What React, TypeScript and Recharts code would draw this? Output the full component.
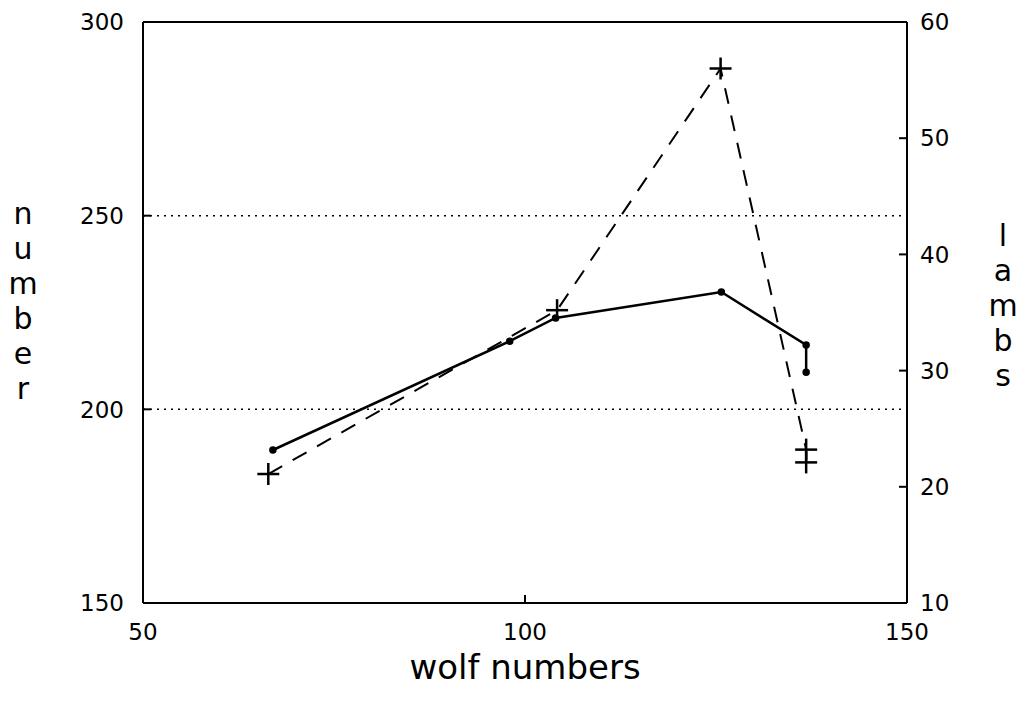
import React from "react";
import {
  LineChart,
  Line,
  XAxis,
  YAxis,
  ReferenceLine,
} from "recharts";

// solid line: number vs wolf numbers (left axis)
const wolfNumbers = [67, 98, 104, 125.7, 136.8, 136.8];
const numberValues = [189.5, 217.6, 223.6, 230.3, 216.6, 209.6];

// dashed line: lambs vs wolf numbers (right axis)
const lambWolf = [66.4, 104.2, 125.6, 136.8, 136.8];
const lambValues = [21.1, 35.2, 56.0, 23.2, 22.1];

const xTicks = [50, 100, 150];
const leftTicks = [150, 200, 250, 300];
const rightTicks = [10, 20, 30, 40, 50, 60];
const gridLines = [200, 250];

const numberData = wolfNumbers.map((w, i) => ({ wolf: w, number: numberValues[i] }));
const lambData = lambWolf.map((w, i) => ({ wolf: w, lambs: lambValues[i] }));

const FONT = "'DejaVu Sans', sans-serif";

const Tick = (props: any) => {
  const { x, y, payload, anchor, dy } = props;
  return (
    <text
      x={x}
      y={y}
      dy={dy}
      fontFamily={FONT}
      fontSize={23}
      fill="#000"
      textAnchor={anchor}
    >
      {payload.value}
    </text>
  );
};

const Cross = (props: any) => {
  const { cx, cy } = props;
  if (cx == null || cy == null) return null;
  return (
    <g stroke="#000" strokeWidth={2.5}>
      <line x1={cx - 11} y1={cy} x2={cx + 11} y2={cy} />
      <line x1={cx} y1={cy - 11} x2={cx} y2={cy + 11} />
    </g>
  );
};

// axis title written one letter under the other
const StackedLabel = ({ viewBox, text, dx, cy }: any) => {
  if (!viewBox) return null;
  const letters = text.split("");
  const step = 35;
  const top = cy - ((letters.length - 1) * step) / 2;
  return (
    <g>
      {letters.map((ch: string, i: number) => (
        <text
          key={i}
          x={viewBox.x + dx}
          y={top + i * step + 11}
          fontFamily={FONT}
          fontSize={30}
          fill="#000"
          textAnchor="middle"
        >
          {ch}
        </text>
      ))}
    </g>
  );
};

const BottomLabel = ({ viewBox }: any) => {
  if (!viewBox) return null;
  return (
    <text
      x={viewBox.x + viewBox.width / 2}
      y={viewBox.y + 76}
      fontFamily={FONT}
      fontSize={34}
      fill="#000"
      textAnchor="middle"
    >
      wolf numbers
    </text>
  );
};

export default function App() {
  return (
    <div style={{ width: 1018, height: 690, background: "#fff" }}>
      <LineChart
        width={1018}
        height={690}
        margin={{ top: 14, right: 39, bottom: 5, left: 40 }}
      >
        <XAxis
          dataKey="wolf"
          type="number"
          domain={[50, 150]}
          ticks={xTicks}
          allowDataOverflow
          height={90}
          stroke="#000"
          strokeWidth={2}
          tickSize={-8}
          tickMargin={29}
          tick={<Tick anchor="middle" dy="0.71em" />}
          label={<BottomLabel />}
        />
        <YAxis
          yAxisId="left"
          orientation="left"
          domain={[150, 300]}
          ticks={leftTicks}
          width={95}
          stroke="#000"
          strokeWidth={2}
          tickSize={-8}
          tickMargin={27}
          tick={<Tick anchor="end" dy="0.36em" />}
          label={<StackedLabel text="number" dx={-25} cy={292} />}
        />
        <YAxis
          yAxisId="right"
          orientation="right"
          domain={[10, 60]}
          ticks={rightTicks}
          width={80}
          stroke="#000"
          strokeWidth={2}
          tickSize={-8}
          tickMargin={21}
          tick={<Tick anchor="start" dy="0.36em" />}
          label={<StackedLabel text="lambs" dx={96} cy={297} />}
        />
        {gridLines.map((g) => (
          <ReferenceLine
            key={g}
            yAxisId="left"
            y={g}
            stroke="#000"
            strokeWidth={1.5}
            strokeDasharray="2 5"
          />
        ))}
        <ReferenceLine yAxisId="left" y={300} stroke="#000" strokeWidth={2} />
        <Line
          yAxisId="left"
          data={numberData}
          dataKey="number"
          stroke="#000"
          strokeWidth={2.5}
          dot={{ r: 2.5, fill: "#000", stroke: "#000" }}
          isAnimationActive={false}
        />
        <Line
          yAxisId="right"
          data={lambData}
          dataKey="lambs"
          stroke="#000"
          strokeWidth={2}
          strokeDasharray="16 12"
          dot={<Cross />}
          isAnimationActive={false}
        />
      </LineChart>
    </div>
  );
}
